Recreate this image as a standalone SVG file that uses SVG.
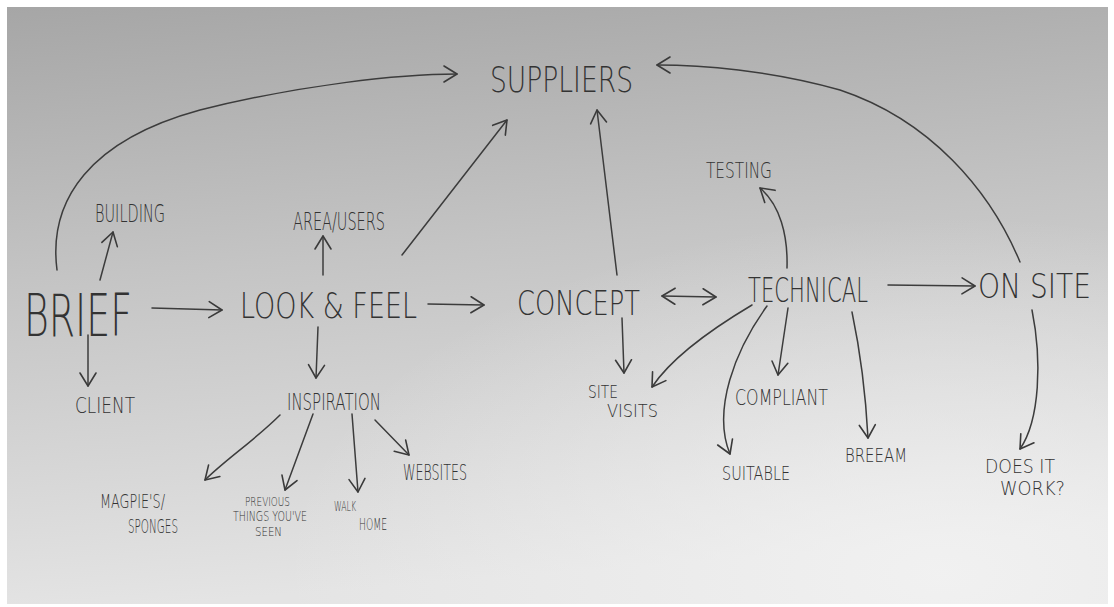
<svg xmlns="http://www.w3.org/2000/svg" width="1114" height="607" viewBox="0 0 1114 607">
<defs>
<linearGradient id="paper" x1="0" y1="0" x2="0.15" y2="1">
<stop offset="0" stop-color="#a6a6a6"/>
<stop offset="0.45" stop-color="#c4c4c4"/>
<stop offset="1" stop-color="#e4e4e4"/>
</linearGradient>
<radialGradient id="glow" cx="0.85" cy="0.95" r="0.6">
<stop offset="0" stop-color="#f4f4f4" stop-opacity="0.8"/>
<stop offset="1" stop-color="#f4f4f4" stop-opacity="0"/>
</radialGradient>
<marker id="ah" markerUnits="userSpaceOnUse" markerWidth="30" markerHeight="30" refX="0" refY="0" viewBox="-20 -15 30 30" orient="auto" overflow="visible">
<path d="M-13,-8 L0,0 L-13,8" fill="none" stroke="#3a3a3a" stroke-width="1.6" stroke-linecap="round" stroke-linejoin="round"/>
</marker>
<marker id="ahs" markerUnits="userSpaceOnUse" markerWidth="30" markerHeight="30" refX="0" refY="0" viewBox="-20 -15 30 30" orient="auto-start-reverse" overflow="visible">
<path d="M-13,-8 L0,0 L-13,8" fill="none" stroke="#3a3a3a" stroke-width="1.6" stroke-linecap="round" stroke-linejoin="round"/>
</marker>
</defs>
<style>
.t{font-family:"DejaVu Sans","Liberation Sans",sans-serif;font-weight:200;fill:#333;letter-spacing:0}
.c{fill:none;stroke:#3c3c3c;stroke-width:1.5;stroke-linecap:round;marker-end:url(#ah)}
</style>
<rect x="0" y="0" width="1114" height="607" fill="#ffffff"/>
<rect x="7" y="7" width="1101" height="597" fill="url(#paper)"/>
<rect x="7" y="7" width="1101" height="597" fill="url(#glow)"/>

<g id="connectors">
<path class="c" d="M57,270 C48,200 90,140 200,110 C300,85 400,74 457,74"/>
<path class="c" d="M1020,262 C990,190 930,120 840,90 C770,70 700,65 657,65"/>
<path class="c" d="M402,255 L507,120"/>
<path class="c" d="M617,275 L597,110"/>
<path class="c" d="M787,268 C788,235 780,205 760,188"/>
<path class="c" d="M152,308 L222,310"/>
<path class="c" d="M428,304 L484,305"/>
<path class="c" d="M662,296 L716,297" style="marker-start:url(#ahs)"/>
<path class="c" d="M888,285 L975,286"/>
<path class="c" d="M100,280 L113,232"/>
<path class="c" d="M323,275 L323,236"/>
<path class="c" d="M88,335 L88,386"/>
<path class="c" d="M318,327 L316,378"/>
<path class="c" d="M280,415 C255,440 225,460 205,480"/>
<path class="c" d="M313,414 L285,490"/>
<path class="c" d="M352,414 L358,492"/>
<path class="c" d="M375,420 L409,455"/>
<path class="c" d="M622,318 L624,373"/>
<path class="c" d="M752,305 C710,330 670,360 652,387"/>
<path class="c" d="M767,306 C735,350 712,410 730,454"/>
<path class="c" d="M788,308 L778,375"/>
<path class="c" d="M852,312 C860,350 866,400 868,438"/>
<path class="c" d="M1032,310 C1042,360 1040,420 1020,449"/>
</g>

<g id="suppliers"><text class="t" x="490" y="92" font-size="36" textLength="143" lengthAdjust="spacingAndGlyphs">SUPPLIERS</text></g>
<g id="brief"><text class="t" x="24" y="336" font-size="58" textLength="108" lengthAdjust="spacingAndGlyphs">BRIEF</text></g>
<g id="look-feel"><text class="t" x="240" y="318" font-size="36" textLength="177" lengthAdjust="spacingAndGlyphs">LOOK &amp; FEEL</text></g>
<g id="concept"><text class="t" x="517" y="315" font-size="34" textLength="123" lengthAdjust="spacingAndGlyphs">CONCEPT</text></g>
<g id="technical"><text class="t" x="748" y="302" font-size="33" textLength="120" lengthAdjust="spacingAndGlyphs">TECHNICAL</text></g>
<g id="on-site"><text class="t" x="978" y="298" font-size="33" textLength="113" lengthAdjust="spacingAndGlyphs">ON SITE</text></g>
<g id="testing"><text class="t" x="706" y="178" font-size="21" textLength="66" lengthAdjust="spacingAndGlyphs">TESTING</text></g>
<g id="building"><text class="t" x="95" y="222" font-size="24" textLength="70" lengthAdjust="spacingAndGlyphs">BUILDING</text></g>
<g id="area-users"><text class="t" x="293" y="230" font-size="24" textLength="92" lengthAdjust="spacingAndGlyphs">AREA/USERS</text></g>
<g id="client"><text class="t" x="75" y="413" font-size="22" textLength="60" lengthAdjust="spacingAndGlyphs">CLIENT</text></g>
<g id="inspiration"><text class="t" x="287" y="410" font-size="23" textLength="94" lengthAdjust="spacingAndGlyphs">INSPIRATION</text></g>
<g id="magpies"><text class="t" x="100" y="508" font-size="20" textLength="65" lengthAdjust="spacingAndGlyphs">MAGPIE'S/</text><text class="t" x="128" y="533" font-size="20" textLength="50" lengthAdjust="spacingAndGlyphs">SPONGES</text></g>
<g id="previous"><text class="t" x="245" y="506" font-size="12" textLength="45" lengthAdjust="spacingAndGlyphs">PREVIOUS</text><text class="t" x="233" y="521" font-size="14" textLength="74" lengthAdjust="spacingAndGlyphs">THINGS YOU'VE</text><text class="t" x="255" y="536" font-size="13" textLength="27" lengthAdjust="spacingAndGlyphs">SEEN</text></g>
<g id="walk-home"><text class="t" x="334" y="511" font-size="14" textLength="22" lengthAdjust="spacingAndGlyphs">WALK</text><text class="t" x="359" y="530" font-size="16" textLength="28" lengthAdjust="spacingAndGlyphs">HOME</text></g>
<g id="websites"><text class="t" x="403" y="480" font-size="21" textLength="64" lengthAdjust="spacingAndGlyphs">WEBSITES</text></g>
<g id="site-visits"><text class="t" x="588" y="398" font-size="17" textLength="30" lengthAdjust="spacingAndGlyphs">SITE</text><text class="t" x="607" y="417" font-size="17" textLength="51" lengthAdjust="spacingAndGlyphs">VISITS</text></g>
<g id="compliant"><text class="t" x="735" y="405" font-size="22" textLength="93" lengthAdjust="spacingAndGlyphs">COMPLIANT</text></g>
<g id="suitable"><text class="t" x="722" y="480" font-size="20" textLength="68" lengthAdjust="spacingAndGlyphs">SUITABLE</text></g>
<g id="breeam"><text class="t" x="845" y="462" font-size="20" textLength="62" lengthAdjust="spacingAndGlyphs">BREEAM</text></g>
<g id="does-it-work"><text class="t" x="985" y="473" font-size="19" textLength="70" lengthAdjust="spacingAndGlyphs">DOES IT</text><text class="t" x="1000" y="495" font-size="20" textLength="65" lengthAdjust="spacingAndGlyphs">WORK?</text></g>
</svg>
